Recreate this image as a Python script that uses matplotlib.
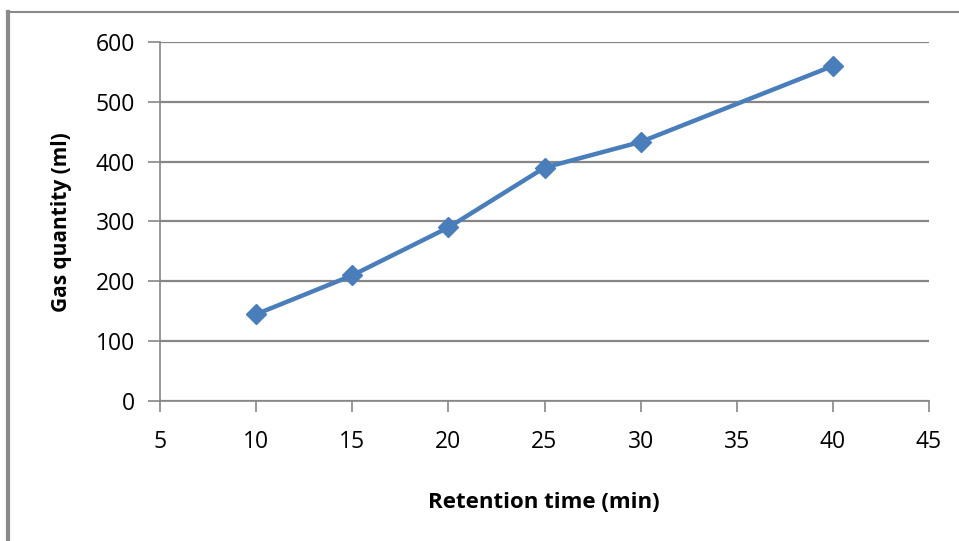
import matplotlib
matplotlib.use("Agg")
import matplotlib.pyplot as plt
from matplotlib.lines import Line2D

# Retention time vs. gas quantity
retention_time = [10, 15, 20, 25, 30, 40]
gas_quantity = [145, 210, 290, 390, 433, 560]

x_ticks = [5, 10, 15, 20, 25, 30, 35, 40, 45]
y_ticks = [0, 100, 200, 300, 400, 500, 600]

W, H = 959, 541
fig = plt.figure(figsize=(W / 100, H / 100), dpi=100)
plt.rcParams['font.family'] = ['Open Sans', 'DejaVu Sans']

ax = fig.add_axes([160 / W, 1 - 401 / H, (929 - 160) / W, (401 - 42) / H])

grid_c = '#868686'
ax.set_xlim(5, 45)
ax.set_ylim(0, 600)
ax.set_xticks(x_ticks)
ax.set_yticks(y_ticks)
ax.yaxis.grid(True, color=grid_c, linewidth=1.6)
ax.set_axisbelow(True)

for side in ('top', 'right'):
    ax.spines[side].set_visible(False)
ax.spines['left'].set_color(grid_c)
ax.spines['bottom'].set_color(grid_c)
ax.spines['left'].set_linewidth(1.2)
ax.spines['bottom'].set_linewidth(1.2)

ax.tick_params(axis='y', direction='out', length=9, width=1.2, color=grid_c,
               labelsize=16.5, pad=9)
ax.tick_params(axis='x', direction='out', length=8, width=1.2, color=grid_c,
               labelsize=16.5, pad=13)

ax.plot(retention_time, gas_quantity, color='#4a7ebb', linewidth=3.2,
        marker='D', markersize=10, markerfacecolor='#4a7ebb',
        markeredgecolor='#4a7ebb', clip_on=False, zorder=3)

ax.set_xlabel('Retention time (min)', fontsize=16, fontweight='bold')
ax.set_ylabel('Gas quantity (ml)', fontsize=15, fontweight='bold')
ax.xaxis.set_label_coords((544 - 160) / (929 - 160), -(502 - 401) / (401 - 42))
ax.yaxis.set_label_coords(-(160 - 61) / (929 - 160), (401 - 222) / (401 - 42))
ax.xaxis.label.set_va('center')
ax.yaxis.label.set_va('center')

# Outer frame: top and left edges
fig.add_artist(Line2D([8 / W, 1], [1 - 12 / H, 1 - 12 / H],
                      transform=fig.transFigure, color='#8a8a8a', linewidth=1.5))
fig.add_artist(Line2D([8 / W, 8 / W], [1 - 12 / H, 0],
                      transform=fig.transFigure, color='#8a8a8a', linewidth=3))

fig.savefig('out.png', dpi=100)
